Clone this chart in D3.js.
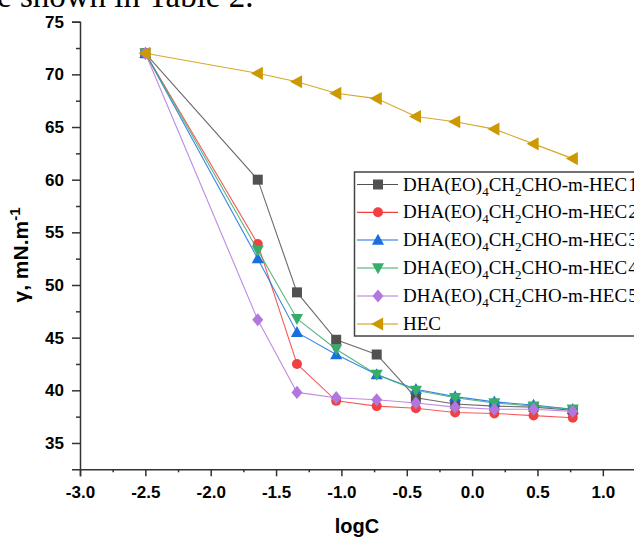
<!DOCTYPE html>
<html><head><meta charset="utf-8">
<script src="https://cdn.jsdelivr.net/npm/d3@7"></script>
<style>body{margin:0;background:#fff;overflow:hidden}svg{display:block}</style>
</head><body>
<script>
const logC = [-2.5, -1.64, -1.34, -1.04, -0.73, -0.43, -0.13, 0.17, 0.47, 0.77];
const hec1 = [72.0, 60.0, 49.3, 44.8, 43.4, 39.3, 38.7, 38.5, 38.4, 38.1];
const hec2 = [72.0, 53.9, 42.5, 39.0, 38.5, 38.3, 37.9, 37.8, 37.6, 37.4];
const hec3 = [72.0, 52.5, 45.5, 43.4, 41.5, 40.1, 39.4, 38.9, 38.6, 38.2];
const hec4 = [72.0, 53.3, 46.8, 43.9, 41.5, 40.0, 39.3, 38.8, 38.5, 38.2];
const hec5 = [72.0, 46.7, 39.8, 39.3, 39.1, 38.8, 38.4, 38.2, 38.2, 38.0];
const hec  = [72.0, 70.1, 69.3, 68.2, 67.7, 66.0, 65.5, 64.8, 63.4, 62.0];
const seriesNames = ["1", "2", "3", "4", "5", "HEC"];
const colors = ["#515151", "#F14040", "#1A6FDF", "#37AD6B", "#B177DE", "#CC9900"];
const xTicks = [-3.0, -2.5, -2.0, -1.5, -1.0, -0.5, 0.0, 0.5, 1.0];
const yTicks = [35, 40, 45, 50, 55, 60, 65, 70, 75];

const W = 634, H = 538;
const svg = d3.select("body").append("svg").attr("width", W).attr("height", H);

const x = d3.scaleLinear().domain([-3, 1.25]).range([80, 635.5]);
const y = d3.scaleLinear().domain([32.5, 75]).range([469.3, 21.7]);

// cropped document text at the top
svg.append("text").attr("x", -3).attr("y", 7)
  .attr("font-family", "Liberation Serif, Times New Roman, serif").attr("font-size", 33)
  .attr("fill", "#000").text("e shown in Table 2.");

const axisColor = "#333";
const sans = "Liberation Sans, Arial, sans-serif";
// X axis
const gx = svg.append("g").attr("transform", `translate(0,${y(32.5)})`);
gx.call(d3.axisBottom(x).tickValues(d3.range(-2.75, 1.3, 0.5)).tickSize(3).tickFormat(""));
gx.call(g => g.select(".domain").remove());
const gx2 = svg.append("g").attr("transform", `translate(0,${y(32.5)})`)
  .call(d3.axisBottom(x).tickValues(xTicks).tickSize(7).tickPadding(10).tickFormat(d3.format(".1f")));
[gx, gx2].forEach(g => { g.selectAll("line,path").attr("stroke", axisColor).attr("stroke-width", 1.5); });
gx2.selectAll("text").attr("font-family", sans)
  .attr("font-weight", "bold").attr("font-size", 17).attr("fill", "#000")
  .text(d => d3.format(".1f")(d).replace("−", "-"));

// Y axis
const gy = svg.append("g").attr("transform", `translate(${x(-3)},0)`);
gy.call(d3.axisLeft(y).tickValues(d3.range(37.5, 75, 5)).tickSize(4).tickFormat(""));
gy.call(g => g.select(".domain").remove());
const gy2 = svg.append("g").attr("transform", `translate(${x(-3)},0)`)
  .call(d3.axisLeft(y).tickValues(yTicks).tickSize(8).tickPadding(8).tickFormat(d3.format("d")));
[gy, gy2].forEach(g => { g.selectAll("line,path").attr("stroke", axisColor).attr("stroke-width", 1.5); });
gy2.selectAll("text").attr("font-family", sans)
  .attr("font-weight", "bold").attr("font-size", 17).attr("fill", "#000");

// axis titles
svg.append("text").attr("x", 357).attr("y", 533).attr("text-anchor", "middle")
  .attr("font-family", sans).attr("font-weight", "bold")
  .attr("font-size", 20).text("logC");
const yl = svg.append("text").attr("transform", "translate(28,255) rotate(-90)")
  .attr("text-anchor", "middle").attr("font-family", sans)
  .attr("font-weight", "bold").attr("font-size", 21);
yl.append("tspan").text("γ, mN.m");
yl.append("tspan").attr("dy", -8).attr("font-size", 15).text("-1");

// symbols
function symPath(i, s) {
  const r = s / 2;
  switch (i) {
    case 0: return `M${-r},${-r}h${s}v${s}h${-s}Z`;
    case 1: return d3.symbol(d3.symbolCircle, Math.PI * r * r)();
    case 2: return `M0,${-r * 1.15}L${r * 1.1},${r * 0.85}L${-r * 1.1},${r * 0.85}Z`;
    case 3: return `M0,${r * 1.15}L${r * 1.1},${-r * 0.85}L${-r * 1.1},${-r * 0.85}Z`;
    case 4: return `M0,${-r * 1.2}L${r * 1.0},0L0,${r * 1.2}L${-r * 1.0},0Z`;
    case 5: return `M${-r * 1.15},0L${r * 0.85},${-r * 1.1}L${r * 0.85},${r * 1.1}Z`;
  }
}
const sizes = [10, 10, 11, 11, 11, 12];
const allSeries = [hec1, hec2, hec3, hec4, hec5, hec];
const line = d3.line().x(d => x(d[0])).y(d => y(d[1]));

allSeries.forEach((vals, i) => {
  const pts = logC.map((c, j) => [c, vals[j]]);
  const g = svg.append("g");
  g.append("path").attr("d", line(pts)).attr("fill", "none")
    .attr("stroke", colors[i]).attr("stroke-width", 1.1).attr("stroke-opacity", 0.85);
  g.selectAll("path.m").data(pts).join("path").attr("class", "m")
    .attr("transform", d => `translate(${x(d[0])},${y(d[1])})`)
    .attr("d", symPath(i, sizes[i])).attr("fill", colors[i]);
});

// legend
const lg = svg.append("g");
lg.append("rect").attr("x", 354.5).attr("y", 172).attr("width", 300).attr("height", 164)
  .attr("fill", "#fff").attr("stroke", "#444").attr("stroke-width", 1.5);
const rowY = [184.5, 212.3, 240, 268, 296, 324];
seriesNames.forEach((nm, i) => {
  const yy = rowY[i];
  lg.append("line").attr("x1", 357).attr("x2", 398).attr("y1", yy).attr("y2", yy)
    .attr("stroke", colors[i]).attr("stroke-width", 1.2);
  lg.append("path").attr("transform", `translate(378,${yy})`).attr("d", symPath(i, sizes[i]))
    .attr("fill", colors[i]);
  const t = lg.append("text").attr("x", 403).attr("y", yy + 6)
    .attr("font-family", "Liberation Serif, Times New Roman, serif").attr("font-size", 19).attr("fill", "#000");
  if (nm === "HEC") { t.text("HEC"); }
  else {
    t.append("tspan").text("DHA(EO)");
    t.append("tspan").attr("dy", 5).attr("font-size", 13).text("4");
    t.append("tspan").attr("dy", -5).text("CH");
    t.append("tspan").attr("dy", 5).attr("font-size", 13).text("2");
    t.append("tspan").attr("dy", -5).text("CHO-m-HEC");
    t.append("tspan").attr("dx", 1).text(nm);
  }
});
</script>
</body></html>
